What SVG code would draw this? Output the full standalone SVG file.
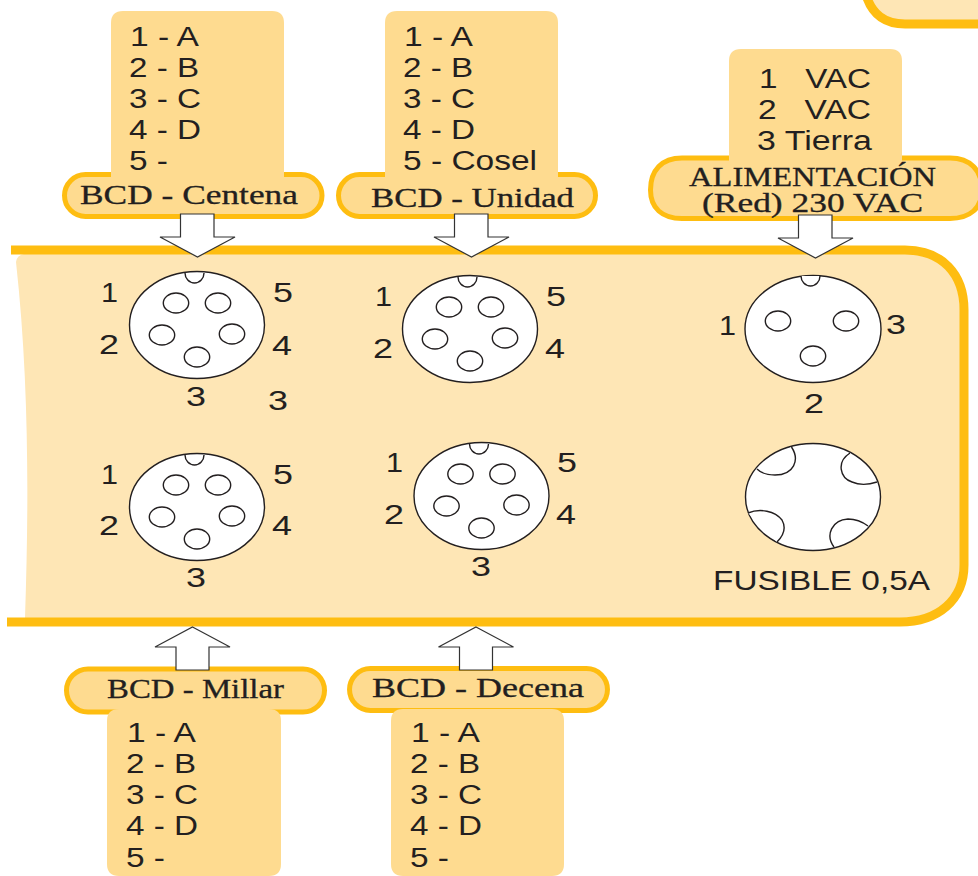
<svg xmlns="http://www.w3.org/2000/svg" xmlns:xlink="http://www.w3.org/1999/xlink" width="978" height="876" viewBox="0 0 978 876">
<style>
.s{font-family:"Liberation Sans",Arial,sans-serif;font-size:27px;fill:#231f20}
.t{font-family:"Liberation Serif","Times New Roman",serif;font-size:27px;fill:#231f20;stroke:#231f20;stroke-width:.3}
.box{fill:#fedb90}
.pill{fill:#fedb90;stroke:#febd11;stroke-width:5}
.conn{fill:#fff;stroke:#231f20;stroke-width:1.4}
.arr{fill:#fff;stroke:#333;stroke-width:1.2}
.edge{fill:none;stroke:#febd11;stroke-width:9}
</style>
<defs>
<g id="five">
<ellipse class="conn" cx="0" cy="0" rx="67.5" ry="53.5"/>
<ellipse class="conn" cx="-21" cy="-22" rx="12.7" ry="10"/>
<ellipse class="conn" cx="21" cy="-22" rx="12.7" ry="10"/>
<ellipse class="conn" cx="-35" cy="10" rx="12.7" ry="10"/>
<ellipse class="conn" cx="35" cy="9" rx="12.7" ry="10"/>
<ellipse class="conn" cx="0" cy="32" rx="12.7" ry="10"/>
<path class="conn" d="M-12-52A9.500 10 0 0 0 7-52"/>
</g>
<path id="down" class="arr" d="M-17 0H16.500V23H37.500L0 43L-37.500 23H-17Z"/>
<path id="up" class="arr" d="M0 0L37.500 20H16.500V43H-16.500V20H-37.500Z"/>
</defs>

<g id="panel-top-right"><path d="M866 -5C872 14 884 24 905 24H978V-5Z" fill="#fee6b5"/><path class="edge" d="M866 -5C872 14 884 24 905 24H978"/></g>
<g id="panel">
<path d="M16 262Q17 255 24 254H905C940 254 960 275 960 310V565C960 600 935 618 900 618H25C29 500 29 380 16 262Z" fill="#fee6b5"/>
<path class="edge" d="M11 250H905C942 250 964 274 964 310V565C964 600 938 622 900 622H7"/>
</g>

<g id="centena-pill">
<path class="pill" d="M111 174.500H85.500A21 21 0 0 0 85.500 216.500H301A21 21 0 0 0 301 174.500H284"/>
</g>
<g id="centena-list">
<path class="box" d="M111 185V23Q111 11 123 11H272Q284 11 284 23V185Z"/>
<text class="s" x="130" y="46" textLength="69" lengthAdjust="spacingAndGlyphs">1 - A</text>
<text class="s" x="129" y="77" textLength="70" lengthAdjust="spacingAndGlyphs">2 - B</text>
<text class="s" x="129" y="108" textLength="72" lengthAdjust="spacingAndGlyphs">3 - C</text>
<text class="s" x="129" y="139" textLength="72" lengthAdjust="spacingAndGlyphs">4 - D</text>
<text class="s" x="129" y="170" textLength="39" lengthAdjust="spacingAndGlyphs">5 -</text>
<text class="t" x="80" y="204" textLength="218" lengthAdjust="spacingAndGlyphs">BCD - Centena</text>
</g>

<g id="unidad-pill">
<path class="pill" d="M385 174.500H359.500A21 21 0 0 0 359.500 216.500H574.500A21 21 0 0 0 574.500 174.500H558"/>
</g>
<g id="unidad-list">
<path class="box" d="M385 186V23Q385 11 397 11H546Q558 11 558 23V186Z"/>
<text class="s" x="404" y="46" textLength="69" lengthAdjust="spacingAndGlyphs">1 - A</text>
<text class="s" x="403" y="77" textLength="70" lengthAdjust="spacingAndGlyphs">2 - B</text>
<text class="s" x="403" y="108" textLength="72" lengthAdjust="spacingAndGlyphs">3 - C</text>
<text class="s" x="403" y="139" textLength="72" lengthAdjust="spacingAndGlyphs">4 - D</text>
<text class="s" x="403" y="170" textLength="134" lengthAdjust="spacingAndGlyphs">5 - Cosel</text>
<text class="t" x="371" y="207" textLength="203" lengthAdjust="spacingAndGlyphs">BCD - Unidad</text>
</g>

<g id="alimentacion-pill">
<path class="pill" d="M729 158H682C662 158 650.500 170 650.500 190C650.500 208 662 218.500 682 218.500H950C970 218.500 982 208 982 190C982 170 970 158 950 158H902"/>
</g>
<g id="alimentacion-list">
<path class="box" d="M729 168V61Q729 49 741 49H890Q902 49 902 61V168Z"/>
<text class="s" x="759" y="88" textLength="112" lengthAdjust="spacingAndGlyphs" xml:space="preserve">1   VAC</text>
<text class="s" x="758" y="119" textLength="113" lengthAdjust="spacingAndGlyphs" xml:space="preserve">2   VAC</text>
<text class="s" x="757" y="150" textLength="115" lengthAdjust="spacingAndGlyphs">3 Tierra</text>
<text class="t" x="689" y="186" textLength="247" lengthAdjust="spacingAndGlyphs">ALIMENTACIÓN</text>
<text class="t" x="702" y="212" textLength="221" lengthAdjust="spacingAndGlyphs">(Red) 230 VAC</text>
</g>

<g id="conector-centena">
<use xlink:href="#five" href="#five" x="197" y="325"/>
<text class="s" x="101" y="302" textLength="17" lengthAdjust="spacingAndGlyphs">1</text>
<text class="s" x="99" y="354" textLength="20" lengthAdjust="spacingAndGlyphs">2</text>
<text class="s" x="186" y="406" textLength="20" lengthAdjust="spacingAndGlyphs">3</text>
<text class="s" x="272" y="355" textLength="20" lengthAdjust="spacingAndGlyphs">4</text>
<text class="s" x="273" y="302" textLength="20" lengthAdjust="spacingAndGlyphs">5</text>
<text class="s" x="268" y="410" textLength="20" lengthAdjust="spacingAndGlyphs">3</text>
</g>
<g id="conector-unidad">
<use xlink:href="#five" href="#five" x="470" y="329"/>
<text class="s" x="375" y="306" textLength="17" lengthAdjust="spacingAndGlyphs">1</text>
<text class="s" x="373" y="358" textLength="20" lengthAdjust="spacingAndGlyphs">2</text>
<text class="s" x="545" y="358" textLength="20" lengthAdjust="spacingAndGlyphs">4</text>
<text class="s" x="546" y="306" textLength="20" lengthAdjust="spacingAndGlyphs">5</text>
</g>
<g id="conector-alimentacion">
<ellipse class="conn" cx="813" cy="329" rx="68" ry="53.500"/>
<ellipse class="conn" cx="778" cy="321" rx="12.700" ry="10"/>
<ellipse class="conn" cx="846" cy="321" rx="12.700" ry="10"/>
<ellipse class="conn" cx="813" cy="356" rx="12.700" ry="10"/>
<path class="conn" d="M801 276A9.500 10 0 0 0 820 276"/>
<text class="s" x="719" y="335" textLength="17" lengthAdjust="spacingAndGlyphs">1</text>
<text class="s" x="804" y="413" textLength="20" lengthAdjust="spacingAndGlyphs">2</text>
<text class="s" x="886" y="334" textLength="20" lengthAdjust="spacingAndGlyphs">3</text>
</g>
<g id="conector-millar">
<use xlink:href="#five" href="#five" x="197" y="507"/>
<text class="s" x="101" y="484" textLength="17" lengthAdjust="spacingAndGlyphs">1</text>
<text class="s" x="99" y="535" textLength="20" lengthAdjust="spacingAndGlyphs">2</text>
<text class="s" x="186" y="587" textLength="20" lengthAdjust="spacingAndGlyphs">3</text>
<text class="s" x="272" y="535" textLength="20" lengthAdjust="spacingAndGlyphs">4</text>
<text class="s" x="273" y="484" textLength="20" lengthAdjust="spacingAndGlyphs">5</text>
</g>
<g id="conector-decena">
<use xlink:href="#five" href="#five" x="481.500" y="496"/>
<text class="s" x="386" y="472" textLength="17" lengthAdjust="spacingAndGlyphs">1</text>
<text class="s" x="384" y="524" textLength="20" lengthAdjust="spacingAndGlyphs">2</text>
<text class="s" x="471" y="576" textLength="20" lengthAdjust="spacingAndGlyphs">3</text>
<text class="s" x="556" y="524" textLength="20" lengthAdjust="spacingAndGlyphs">4</text>
<text class="s" x="557" y="472" textLength="20" lengthAdjust="spacingAndGlyphs">5</text>
</g>
<g id="fusible">
<ellipse class="conn" cx="813" cy="497" rx="67.500" ry="53.500"/>
<path class="conn" d="M791.500 447C800 460 794 475 775 475C767 475 760 472 757 469M850 453C836 462 840 478 852 482C861 486 871 484 877 482M748 513C760 508 775 511 782 520C787 529 782 537 777 542M834 547C825 535 832 520 848 519C857 519 864 523 868 526"/>
<text class="s" x="713" y="590" textLength="217" lengthAdjust="spacingAndGlyphs">FUSIBLE 0,5A</text>
</g>

<g id="millar-pill">
<path class="pill" d="M88 669H303A21.500 21.500 0 0 1 303 712H88A21.500 21.500 0 0 1 88 669Z"/>
</g>
<g id="millar-list">
<path class="box" d="M107 721Q107 709 119 709H269Q281 709 281 721V864Q281 876 269 876H119Q107 876 107 864Z"/>
<text class="t" x="107" y="698" textLength="177" lengthAdjust="spacingAndGlyphs">BCD - Millar</text>
<text class="s" x="127" y="742" textLength="69" lengthAdjust="spacingAndGlyphs">1 - A</text>
<text class="s" x="126" y="773" textLength="70" lengthAdjust="spacingAndGlyphs">2 - B</text>
<text class="s" x="126" y="804" textLength="72" lengthAdjust="spacingAndGlyphs">3 - C</text>
<text class="s" x="126" y="835" textLength="72" lengthAdjust="spacingAndGlyphs">4 - D</text>
<text class="s" x="126" y="867" textLength="39" lengthAdjust="spacingAndGlyphs">5 -</text>
</g>
<g id="decena-pill">
<path class="pill" d="M370.500 668.500H586.500A21 21 0 0 1 586.500 710.500H370.500A21 21 0 0 1 370.500 668.500Z"/>
</g>
<g id="decena-list">
<path class="box" d="M391 721Q391 709 403 709H552Q564 709 564 721V864Q564 876 552 876H403Q391 876 391 864Z"/>
<text class="t" x="372" y="697" textLength="212" lengthAdjust="spacingAndGlyphs">BCD - Decena</text>
<text class="s" x="411" y="742" textLength="69" lengthAdjust="spacingAndGlyphs">1 - A</text>
<text class="s" x="410" y="773" textLength="70" lengthAdjust="spacingAndGlyphs">2 - B</text>
<text class="s" x="410" y="804" textLength="72" lengthAdjust="spacingAndGlyphs">3 - C</text>
<text class="s" x="410" y="835" textLength="72" lengthAdjust="spacingAndGlyphs">4 - D</text>
<text class="s" x="410" y="867" textLength="39" lengthAdjust="spacingAndGlyphs">5 -</text>
</g>

<g id="connectors">
<use xlink:href="#down" href="#down" x="197.500" y="214"/>
<use xlink:href="#down" href="#down" x="471.500" y="214"/>
<use xlink:href="#down" href="#down" x="815.500" y="215"/>
<use xlink:href="#up" href="#up" x="192.500" y="627"/>
<use xlink:href="#up" href="#up" x="476" y="627"/>
</g>
</svg>
